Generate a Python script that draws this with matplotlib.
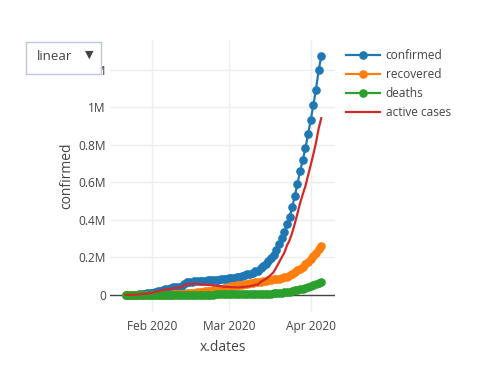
import numpy as np
import pandas as pd
import matplotlib
matplotlib.use("Agg")
import matplotlib.pyplot as plt

plt.rcParams["font.family"] = ["Open Sans", "DejaVu Sans"]

# daily global totals, 22 Jan - 5 Apr 2020
dates = pd.date_range("2020-01-22", "2020-04-05", freq="D")

confirmed = [
    555, 654, 941, 1434, 2118, 2927, 5578, 6166, 8234, 9927,
    12038, 16787, 19881, 23892, 27635, 30794, 34391, 37120, 40150, 42762,
    44802, 45221, 60368, 66885, 69030, 71224, 73258, 75136, 75639, 76197,
    76819, 78572, 78958, 79561, 80406, 81388, 82746, 84112, 86011,
    88369, 90306, 92840, 95120, 97886, 101801, 105847, 109821, 113590, 118620,
    125875, 128352, 145205, 156101, 167454, 181574, 197102, 214821, 242570, 272208,
    304507, 336953, 378235, 418045, 467653, 529591, 593291, 660706, 720117, 782365,
    857487, 932605, 1013157, 1095917, 1197405, 1272115,
]
recovered = [
    28, 30, 36, 39, 52, 61, 107, 126, 143, 222,
    284, 472, 623, 852, 1124, 1487, 2011, 2616, 3244, 3946,
    4683, 5150, 6295, 8058, 9395, 10865, 12583, 14352, 16121, 18177,
    18890, 22886, 23394, 25227, 27905, 30384, 33277, 36711, 39782,
    42716, 45602, 48228, 51170, 53796, 55865, 58358, 60694, 62494, 64404,
    67003, 68324, 70251, 72624, 76034, 78088, 80840, 83207, 84854, 87256,
    91499, 97704, 98334, 107990, 114218, 123900, 130986, 139427, 149060, 164566,
    178034, 193177, 210263, 225796, 246152, 260012,
]
deaths = [
    17, 18, 26, 42, 56, 82, 131, 133, 171, 213,
    259, 362, 426, 492, 564, 634, 719, 806, 906, 1013,
    1113, 1118, 1371, 1523, 1666, 1770, 1868, 2007, 2122, 2247,
    2251, 2458, 2469, 2629, 2708, 2770, 2814, 2872, 2941,
    2996, 3085, 3160, 3254, 3348, 3460, 3558, 3802, 3988, 4262,
    4615, 4720, 5404, 5819, 6440, 7126, 7905, 8733, 9867, 11299,
    13010, 14623, 16497, 18615, 21181, 24206, 27324, 30676, 34108, 37745,
    42070, 46809, 52973, 58787, 64606, 69374,
]
active = list(np.array(confirmed) - np.array(recovered) - np.array(deaths))

y_ticks = [0, 200000, 400000, 600000, 800000, 1000000, 1200000]
y_tick_labels = ["0", "0.2M", "0.4M", "0.6M", "0.8M", "1M", "1.2M"]
x_ticks = pd.to_datetime(["2020-02-01", "2020-03-01", "2020-04-01"])
x_tick_labels = ["Feb 2020", "Mar 2020", "Apr 2020"]

W, H = 482, 366
fig = plt.figure(figsize=(W / 100, H / 100), dpi=100)
ax = fig.add_axes([110 / W, (H - 312) / H, 225 / W, 272 / H])

txt = "#444444"
lw = 1.6
ms = 5.2
ax.plot(dates, confirmed, color="#1f77b4", lw=lw, marker="o", ms=ms, label="confirmed", zorder=3)
ax.plot(dates, recovered, color="#ff7f0e", lw=lw, marker="o", ms=ms, label="recovered", zorder=3)
ax.plot(dates, deaths, color="#2ca02c", lw=lw, marker="o", ms=ms, label="deaths", zorder=3)
ax.plot(dates, active, color="#d62728", lw=lw, label="active cases", zorder=3)

ax.set_ylim(-90700, 1360000)
ax.set_xlim(pd.Timestamp("2020-01-16"), pd.Timestamp("2020-04-10 05:00"))
ax.set_yticks(y_ticks)
ax.set_yticklabels(y_tick_labels)
ax.set_xticks(x_ticks)
ax.set_xticklabels(x_tick_labels)
ax.tick_params(length=0, labelsize=8.6, colors=txt, pad=6)
ax.tick_params(axis="y", pad=3)
ax.grid(True, color="#eeeeee", lw=1)
ax.axhline(0, color="#444444", lw=1, zorder=2)
for s in ax.spines.values():
    s.set_visible(False)

ax.set_xlabel("x.dates", fontsize=10, color=txt, labelpad=5)
ax.set_ylabel("confirmed", fontsize=10, color=txt, labelpad=3)

leg = ax.legend(loc="upper left", bbox_to_anchor=(341 / W, (H - 44) / H),
                bbox_transform=fig.transFigure, frameon=False, fontsize=8.6,
                handlelength=2.9, handletextpad=0.45, labelspacing=0.5,
                borderaxespad=0)
for t in leg.get_texts():
    t.set_color(txt)

# dropdown button, drawn as its own axes on top of the plot
btn = fig.add_axes([26 / W, (H - 74) / H, 75 / W, 32 / H], zorder=10)
btn.set_facecolor("white")
btn.set_xticks([])
btn.set_yticks([])
for s in btn.spines.values():
    s.set_color("#bec8d9")
    s.set_linewidth(1)
btn.text(11 / 75, 0.56, "linear", fontsize=9.6, color=txt, va="center",
         transform=btn.transAxes)
btn.text(63 / 75, 0.6, "▼", fontsize=8, color=txt, va="center", ha="center",
         family="DejaVu Sans", transform=btn.transAxes)

fig.savefig("out.png", dpi=100)
